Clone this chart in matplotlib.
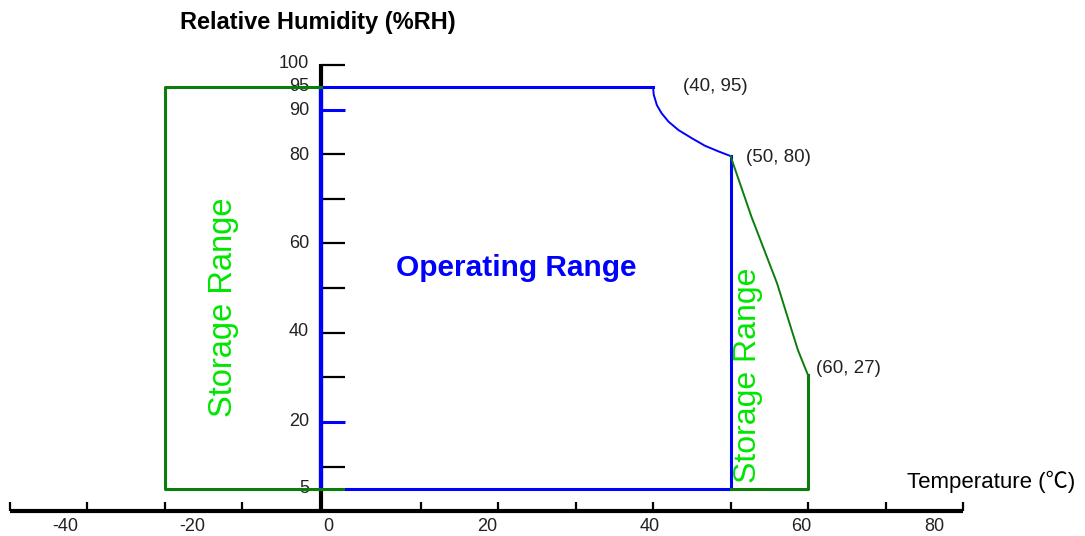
import matplotlib
matplotlib.use("Agg")
from matplotlib import pyplot as plt

plt.rcParams['font.family'] = ['Liberation Sans', 'Noto Sans CJK KR', 'DejaVu Sans']

# 数据 (温度 ℃, 相对湿度 %RH)
op_top_T = [-2.85, 40]
op_top_RH = [95, 95]
op_curve_T = [40, 40.1, 40.5, 41.1, 42.0, 43.3, 45.0, 46.7, 48.5, 50]
op_curve_RH = [95, 93.3, 91.0, 89.2, 87.3, 85.4, 83.6, 81.9, 80.6, 79.6]
op_right_T = [50, 50, 0]
op_right_RH = [79.6, 5, 5]
op_left_T = [-2.85, -2.85]
op_left_RH = [95, 5]

st_left_T = [-2.85, -23, -23, 0]
st_left_RH = [95, 95, 5, 5]
st_right_T = [50, 52.7, 56.0, 58.7, 60, 60, 50]
st_right_RH = [79.6, 66.0, 51.1, 36.1, 30.5, 5, 5]

x_ticks = [-43, -33, -23, -13, 10, 20, 30, 40, 50, 60, 70, 80]
x_labels = ['-40', '-20', '0', '20', '40', '60', '80']
x_label_pos = [-35.9, -19.4, -1.9, 18.6, 39.6, 59.1, 76.3]

y_ticks_black = [100, 80, 70, 60, 50, 40, 30, 10]
y_ticks_blue = [90, 20]
y_labels = ['100', '95', '90', '80', '60', '40', '20', '5']
y_label_pos = [100.4, 95.2, 89.7, 79.8, 59.9, 40.2, 20.2, 5]

points = ['(40, 95)', '(50, 80)', '(60, 27)']
points_T = [43.9, 52.0, 61.0]
points_RH = [95.1, 79.2, 31.9]

BLUE = '#0000ff'
GREEN = '#0a7d0a'
LIME = '#00e600'

fig = plt.figure(figsize=(10.85, 5.36), dpi=100)
ax = fig.add_axes([0, 0, 1, 1])
ax.set_xlim(-44.26, 95.74)
ax.set_ylim(-5.54, 114.56)
ax.axis('off')

axis_T = -2.85
axis_RH = 0.0

# 坐标轴
ax.plot([-43, 80], [axis_RH, axis_RH], color='black', lw=3, solid_capstyle='butt', zorder=2)
ax.plot([axis_T, axis_T], [axis_RH, 100.2], color='black', lw=3, solid_capstyle='butt', zorder=2)
for t in x_ticks:
    ax.plot([t, t], [axis_RH, 2.1], color='black', lw=1.6, solid_capstyle='butt', zorder=2)
for v in y_ticks_black:
    ax.plot([axis_T, 0.26], [v, v], color='black', lw=1.6, solid_capstyle='butt', zorder=2)
for v in y_ticks_blue:
    ax.plot([axis_T, 0.26], [v, v], color=BLUE, lw=2.2, solid_capstyle='butt', zorder=3)

for lab, t in zip(x_labels, x_label_pos):
    ax.text(t, -3.4, lab, ha='center', va='center', fontsize=13, color='#222222')
for lab, v in zip(y_labels, y_label_pos):
    ax.text(-4.4, v, lab, ha='right', va='center', fontsize=13, color='#222222')

# 工作范围
ax.plot(op_top_T, op_top_RH, color=BLUE, lw=2.2, zorder=3)
ax.plot(op_curve_T, op_curve_RH, color=BLUE, lw=1.4, zorder=3)
ax.plot(op_right_T, op_right_RH, color=BLUE, lw=2.2, zorder=3)
ax.plot(op_left_T, op_left_RH, color=BLUE, lw=3, solid_capstyle='butt', zorder=3)

# 存储范围
ax.plot(st_left_T, st_left_RH, color=GREEN, lw=2.2, zorder=4)
ax.plot(st_right_T[:5], st_right_RH[:5], color=GREEN, lw=1.4, zorder=4)
ax.plot(st_right_T[4:], st_right_RH[4:], color=GREEN, lw=2.2, zorder=4)

# 文字
ax.text(-21.0, 109.6, 'Relative Humidity (%RH)', ha='left', va='center',
        fontsize=17, fontweight='bold')
ax.text(72.8, 6.6, 'Temperature (℃)', ha='left', va='center', fontsize=16)
ax.text(22.4, 54.5, 'Operating Range', ha='center', va='center',
        fontsize=21.5, fontweight='bold', color=BLUE)
ax.text(-15.4, 45.7, 'Storage Range', ha='center', va='center', rotation=90,
        fontsize=23.5, color=LIME)
ax.text(52.3, 30.5, 'Storage Range', ha='center', va='center', rotation=90,
        fontsize=23, color=LIME)
for s, t, v in zip(points, points_T, points_RH):
    ax.text(t, v, s, ha='left', va='center', fontsize=13.5, color='#222222')

fig.savefig('out.png', dpi=100)
